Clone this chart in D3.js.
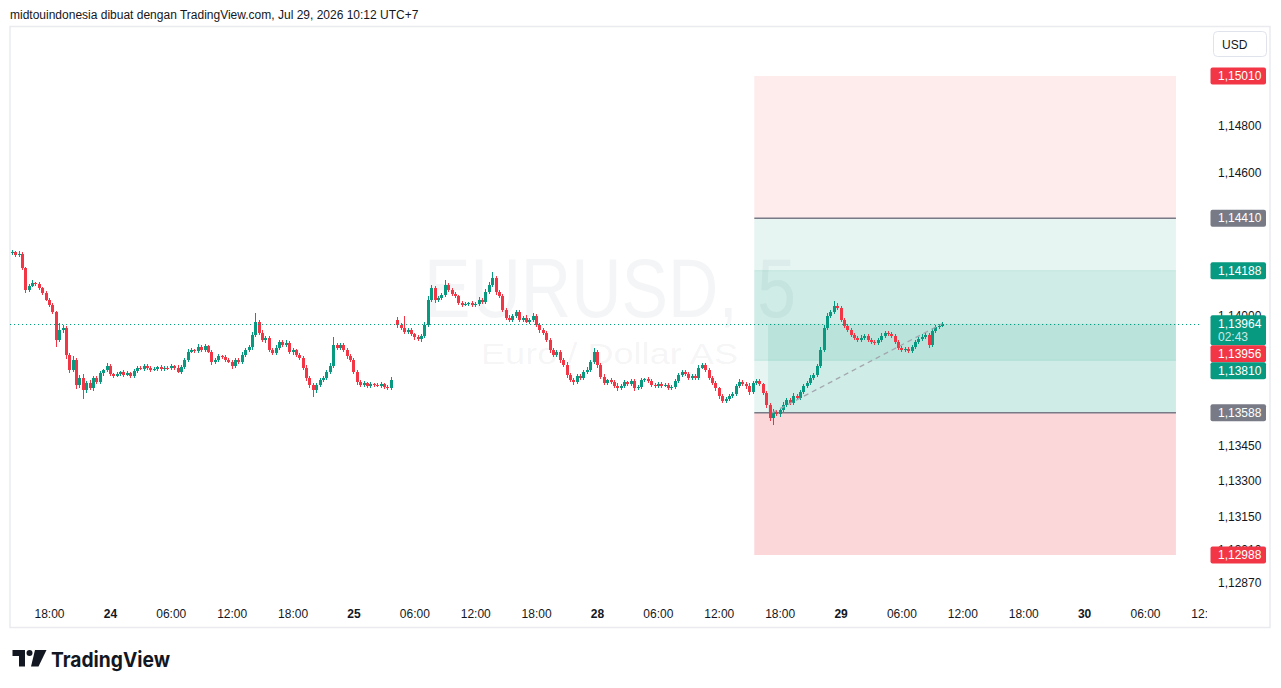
<!DOCTYPE html>
<html>
<head>
<meta charset="utf-8">
<script src="https://cdn.jsdelivr.net/npm/d3@7"></script>
<style>
  body { margin: 0; background: #fff; }
  svg { display: block; font-family: "Liberation Sans", Arial, sans-serif; }
</style>
</head>
<body>
<svg id="chart" width="1281" height="688"></svg>
<script>
// EURUSD, 5, resampled to 20 minute bars
// hours are counted on the chart's own time line, 0 = 23 Jul 18:00
var firstBarHour = -11 / 3;   // 23 Jul 14:20
var barHours = 1 / 3;
var firstOpen = 1.14262;
var reopenPrice = 1.13980;    // first open after the hole in the data

var closes = [
  1.14267,1.14254,1.14259,1.14200,1.14107,1.14124,1.14136,1.14132,1.14115,1.14094,1.14065,1.14043,1.14014,1.13896,1.13938,1.13946,1.13832,1.13769,1.13811,1.13706,
  1.13735,1.13685,1.13714,1.13693,1.13735,1.13718,1.13756,1.13769,1.13786,1.13752,1.13744,1.13752,1.13761,1.13748,1.13756,1.13744,1.13765,1.13778,1.13773,1.13786,
  1.13778,1.13769,1.13773,1.13782,1.13773,1.13778,1.13776,1.13786,1.13778,1.13761,1.13782,1.13811,1.13845,1.13853,1.13850,1.13866,1.13853,1.13870,1.13845,1.13803,
  1.13811,1.13828,1.13824,1.13811,1.13803,1.13786,1.13811,1.13803,1.13832,1.13853,1.13866,1.13917,1.13972,1.13925,1.13896,1.13904,1.13853,1.13841,1.13862,1.13887,
  1.13875,1.13883,1.13845,1.13853,1.13832,1.13820,1.13778,1.13735,1.13706,1.13685,1.13706,1.13727,1.13735,1.13761,1.13786,1.13875,1.13862,1.13875,1.13853,1.13828,
  1.13811,1.13761,1.13718,1.13706,1.13714,1.13702,1.13710,1.13706,1.13702,1.13710,1.13697,1.13693,1.13727,null,1.13959,1.13946,1.13929,1.13938,1.13921,1.13908,
  1.13900,1.13913,1.13959,1.14065,1.14115,1.14065,1.14073,1.14086,1.14128,1.14107,1.14090,1.14081,1.14052,1.14043,1.14046,1.14052,1.14043,1.14048,1.14065,1.14056,
  1.14098,1.14128,1.14157,1.14098,1.14081,1.14022,1.13989,1.13980,1.13997,1.14014,1.13980,1.13989,1.13972,1.13980,1.13997,1.13959,1.13938,1.13925,1.13896,1.13853,
  1.13832,1.13845,1.13811,1.13790,1.13748,1.13727,1.13718,1.13744,1.13735,1.13761,1.13769,1.13803,1.13845,1.13790,1.13740,1.13714,1.13727,1.13718,1.13702,1.13693,
  1.13702,1.13718,1.13710,1.13723,1.13693,1.13697,1.13727,1.13731,1.13723,1.13706,1.13702,1.13710,1.13702,1.13706,1.13693,1.13697,1.13723,1.13748,1.13761,1.13752,
  1.13735,1.13744,1.13735,1.13778,1.13790,1.13769,1.13735,1.13714,1.13693,1.13659,1.13638,1.13647,1.13659,1.13668,1.13702,1.13718,1.13710,1.13702,1.13676,1.13714,
  1.13723,1.13710,1.13672,1.13621,1.13566,1.13592,1.13583,1.13600,1.13621,1.13642,1.13630,1.13659,1.13651,1.13676,1.13702,1.13714,1.13735,1.13748,1.13786,1.13853,
  1.13946,1.13997,1.14014,1.14039,1.14031,1.13980,1.13955,1.13938,1.13917,1.13904,1.13896,1.13904,1.13913,1.13896,1.13887,1.13883,1.13896,1.13913,1.13925,1.13921,
  1.13913,1.13887,1.13862,1.13853,1.13858,1.13849,1.13866,1.13887,1.13900,1.13908,1.13917,1.13875,1.13934,1.13951,1.13955,1.13964
];

// wick lengths beyond the body, in points (0.00001)
var upperWickPts = [
  8,6,12,8,5,9,14,6,8,5,9,6,8,6,30,12,8,9,15,10,
  12,16,9,13,8,10,9,6,12,8,6,9,5,8,10,6,9,8,6,9,
  8,6,9,5,8,6,9,8,6,10,8,9,12,8,6,13,9,8,6,10,
  9,8,6,9,8,10,9,8,12,9,10,14,38,9,13,8,10,9,12,8,
  9,13,8,10,6,9,8,12,9,8,10,8,9,6,12,34,9,8,10,9,
  8,9,6,8,9,6,8,6,9,8,6,8,12,0,14,9,50,8,10,6,
  9,8,12,16,14,9,10,8,20,9,8,10,6,9,8,6,9,8,10,9,
  12,14,25,9,10,8,9,12,8,10,9,8,12,9,13,8,9,8,10,9,
  8,10,9,8,12,9,8,10,9,8,12,9,18,9,8,10,6,9,8,10,
  8,9,6,10,8,9,8,6,9,8,6,9,8,10,6,9,8,10,9,8,
  9,8,6,14,9,8,10,8,9,6,9,8,10,9,8,12,9,8,10,9,
  8,9,6,10,8,12,9,8,13,9,8,12,9,10,8,9,12,9,10,14,
  12,14,10,20,13,9,8,10,9,8,10,12,9,8,10,9,8,12,9,10,
  8,9,10,8,9,6,10,9,8,12,9,8,13,9,10,6
];
var lowerWickPts = [
  8,10,6,9,12,8,6,10,8,9,6,9,8,30,9,12,16,14,10,16,
  14,38,12,9,13,10,8,12,9,10,8,6,9,8,6,9,8,10,6,8,
  9,8,6,10,8,9,6,8,9,6,10,8,9,6,8,9,8,10,6,12,
  9,10,8,9,6,12,8,9,10,8,9,12,8,10,9,12,8,10,9,8,
  10,8,9,12,8,9,10,13,14,30,12,9,10,8,9,8,10,9,8,12,
  9,10,13,9,8,10,9,8,6,9,8,10,9,0,12,9,8,10,9,12,
  8,13,9,8,10,12,9,8,10,9,8,9,8,10,6,9,8,10,9,8,
  9,8,10,12,9,8,10,9,8,10,8,9,6,10,8,9,12,10,9,12,
  10,9,12,10,14,9,12,8,10,9,8,9,10,12,9,10,8,9,10,12,
  9,8,10,9,12,8,9,10,8,9,10,8,9,6,10,8,9,8,10,9,
  8,9,10,8,6,9,8,10,12,14,10,9,8,10,9,8,9,12,14,9,
  8,10,9,12,14,30,10,12,9,10,9,8,10,9,8,9,8,10,9,8,
  9,8,10,8,9,8,10,9,8,10,9,8,10,9,8,10,9,8,9,10,
  9,8,10,9,8,10,9,8,9,10,8,12,9,8,9,6
];

// only the ticks that show (the rest sit under the price marks)
var priceTicks = [1.148, 1.146, 1.140, 1.1345, 1.133, 1.1315, 1.1301, 1.1287];
var timeTickHours = [0, 6, 12, 18, 24, 30, 36, 42, 48, 54, 60, 66, 72, 78, 84, 90, 96, 102, 108, 114];
var timeTickLabels = ['18:00','24','06:00','12:00','18:00','25','06:00','12:00','18:00','28',
                      '06:00','12:00','18:00','29','06:00','12:00','18:00','30','06:00','12:00'];
var dayLabels = ['24', '25', '28', '29', '30'];

// two position tools: short (upper) and long (lower)
var positions = [
  {start: 69.5, end: 111.05, entry: 1.14410, stop: 1.15010, target: 1.13810},
  {start: 69.5, end: 111.05, entry: 1.13588, stop: 1.12988, target: 1.14188}
];
var longHitHour = 70.85;
var entryLineHour = 71.25;

var lastPrice = 1.13964;
var bidPrice = 1.13956;
var countdown = '02:43';
var markPrices = [1.15010, 1.14410, 1.14188, lastPrice, bidPrice, 1.13810, 1.13588, 1.12988];
var markKinds = ['stop', 'entry', 'target', 'last', 'bid', 'target', 'entry', 'stop'];

var upColor = '#089981', downColor = '#f23645';
var markColors = {stop: '#f23645', entry: '#787b86', target: '#089981', last: '#089981', bid: '#f23645'};

// ---------------------------------------------------------------
var svg = d3.select('#chart');
var fmt = function(v){ return d3.format('.5f')(v).replace('.', ','); };

var x = d3.scaleLinear().domain([0, 108]).range([49, 1145]);
var y = d3.scaleLinear().domain([1.12988, 1.15010]).range([555, 76]);

// build bars, open = previous close
var bars = [];
var prev = firstOpen;
closes.forEach(function(c, i){
  if (c === null) { prev = null; return; }
  var o = prev === null ? reopenPrice : prev;
  bars.push({
    h: firstBarHour + i * barHours,
    o: o, c: c,
    hi: Math.max(o, c) + upperWickPts[i] / 1e5,
    lo: Math.min(o, c) - lowerWickPts[i] / 1e5
  });
  prev = c;
});

var defs = svg.append('defs');
defs.append('clipPath').attr('id', 'plotclip')
  .append('rect').attr('x', 10).attr('y', 27).attr('width', 1190).attr('height', 573);
defs.append('clipPath').attr('id', 'timeclip')
  .append('rect').attr('x', 10).attr('y', 600).attr('width', 1197).attr('height', 27);

// header
svg.append('text').attr('x', 10).attr('y', 19).attr('font-size', 12).attr('fill', '#131722')
  .text('midtouindonesia dibuat dengan TradingView.com, Jul 29, 2026 10:12 UTC+7');

// frame
svg.append('rect').attr('x', 10).attr('y', 26.5).attr('width', 1260).attr('height', 601)
  .attr('fill', 'none').attr('stroke', '#e9ebef').attr('stroke-width', 1.5);

var plot = svg.append('g').attr('clip-path', 'url(#plotclip)');

// watermark
plot.append('text').attr('x', 424).attr('y', 317).attr('font-size', 84)
  .attr('textLength', 372).attr('lengthAdjust', 'spacingAndGlyphs')
  .attr('fill', 'rgba(120,123,134,0.08)').text('EURUSD, 5');
plot.append('text').attr('x', 481).attr('y', 364).attr('font-size', 30)
  .attr('textLength', 257).attr('lengthAdjust', 'spacingAndGlyphs')
  .attr('fill', 'rgba(120,123,134,0.08)').text('Euro / Dollar AS');

// position boxes
positions.forEach(function(p, k){
  var x0 = x(p.start), x1 = x(p.end);
  plot.append('rect').attr('x', x0).attr('width', x1 - x0)
    .attr('y', y(Math.max(p.entry, p.stop))).attr('height', Math.abs(y(p.entry) - y(p.stop)))
    .attr('fill', k === 0 ? 'rgba(242,54,69,0.1)' : 'rgba(242,54,69,0.2)');
  plot.append('rect').attr('x', x0).attr('width', x1 - x0)
    .attr('y', y(Math.max(p.entry, p.target))).attr('height', Math.abs(y(p.entry) - y(p.target)))
    .attr('fill', 'rgba(8,153,129,0.1)');
});
var longPos = positions[1];
plot.append('rect').attr('x', x(longHitHour)).attr('width', x(longPos.end) - x(longHitHour))
  .attr('y', y(lastPrice)).attr('height', y(longPos.entry) - y(lastPrice))
  .attr('fill', 'rgba(8,153,129,0.1)');
positions.forEach(function(p){
  plot.append('line').attr('x1', x(p.start)).attr('x2', x(p.end))
    .attr('y1', y(p.target)).attr('y2', y(p.target))
    .attr('stroke', 'rgba(8,153,129,0.12)');
  plot.append('line').attr('x1', x(p.start)).attr('x2', x(p.end))
    .attr('y1', y(p.entry)).attr('y2', y(p.entry))
    .attr('stroke', '#787b86').attr('stroke-width', 1.5);
});

// candles
var cg = plot.append('g').attr('shape-rendering', 'crispEdges');
var col = function(d){ return d.c >= d.o ? upColor : downColor; };
cg.selectAll('rect.wick').data(bars).join('rect').attr('class', 'wick')
  .attr('x', function(d){ return Math.round(x(d.h)); })
  .attr('width', 1)
  .attr('y', function(d){ return y(d.hi); })
  .attr('height', function(d){ return Math.max(1, y(d.lo) - y(d.hi)); })
  .attr('fill', col);
cg.selectAll('rect.body').data(bars).join('rect').attr('class', 'body')
  .attr('x', function(d){ return Math.round(x(d.h)) - 1; })
  .attr('width', 3)
  .attr('y', function(d){ return y(Math.max(d.o, d.c)); })
  .attr('height', function(d){ return Math.max(1, Math.abs(y(d.o) - y(d.c))); })
  .attr('fill', col);

// line from long entry to the last close
var lastBar = bars[bars.length - 1];
plot.append('line')
  .attr('x1', x(entryLineHour)).attr('y1', y(longPos.entry))
  .attr('x2', x(lastBar.h)).attr('y2', y(lastBar.c))
  .attr('stroke', '#a3a6af').attr('stroke-width', 1.3).attr('stroke-dasharray', '5,4');

// current price line
var py = Math.round(y(lastPrice)) + 0.5;
svg.append('line').attr('x1', 10).attr('x2', 1201).attr('y1', py).attr('y2', py)
  .attr('stroke', upColor).attr('stroke-width', 1.2).attr('stroke-dasharray', '1.2,2.8');

// price axis
var yAxis = svg.append('g').attr('transform', 'translate(1218,0)')
  .call(d3.axisRight(y).tickValues(priceTicks).tickFormat(fmt).tickSize(0).tickPadding(0));
yAxis.select('.domain').remove();
yAxis.attr('font-family', null).attr('font-size', 12);
yAxis.selectAll('text').attr('fill', '#131722');

// time axis (clipped at the price scale like the reference)
var xAxis = svg.append('g').attr('clip-path', 'url(#timeclip)')
  .append('g').attr('transform', 'translate(0,606)')
  .call(d3.axisBottom(x).tickValues(timeTickHours)
    .tickFormat(function(h){ return timeTickLabels[timeTickHours.indexOf(h)]; })
    .tickSize(0).tickPadding(3));
xAxis.select('.domain').remove();
xAxis.attr('font-family', null).attr('font-size', 12);
xAxis.selectAll('text').attr('fill', '#131722')
  .attr('font-weight', function(h){ return dayLabels.indexOf(timeTickLabels[timeTickHours.indexOf(h)]) >= 0 ? 'bold' : null; });

// price marks on the axis, pushed down when they overlap
var marks = markPrices.map(function(p, i){ return {price: p, kind: markKinds[i]}; });
marks.sort(function(a, b){ return b.price - a.price; });
var bottom = -Infinity;
marks.forEach(function(m){
  m.h = m.kind === 'last' ? 30 : 17;
  m.top = Math.max(y(m.price) - 8.5, bottom);
  bottom = m.top + m.h;
});
var mg = svg.append('g').selectAll('g').data(marks).join('g');
mg.append('rect').attr('x', 1210.5).attr('width', 55.5)
  .attr('y', function(m){ return m.top; }).attr('height', function(m){ return m.h; })
  .attr('rx', 2).attr('fill', function(m){ return markColors[m.kind]; });
mg.append('text').attr('x', 1218).attr('y', function(m){ return m.top + 12.8; })
  .attr('font-size', 12).attr('fill', '#fff').text(function(m){ return fmt(m.price); });
mg.filter(function(m){ return m.kind === 'last'; }).append('text')
  .attr('x', 1218).attr('y', function(m){ return m.top + 26; })
  .attr('font-size', 12).attr('fill', 'rgba(255,255,255,0.8)').text(countdown);

// currency button
svg.append('rect').attr('x', 1213.5).attr('y', 31.5).attr('width', 53).attr('height', 25).attr('rx', 4)
  .attr('fill', '#fff').attr('stroke', '#e0e3eb');
svg.append('text').attr('x', 1222).attr('y', 48.5).attr('font-size', 12).attr('fill', '#131722').text('USD');

// TradingView logo
var logo = svg.append('g').attr('fill', '#131722');
logo.append('path').attr('d', 'M12.5,650 H25 V666.5 H19 V656 H12.5 Z');
logo.append('circle').attr('cx', 29.5).attr('cy', 653).attr('r', 3);
logo.append('path').attr('d', 'M35,650 H46.5 L38.5,666.5 H31 Z');
logo.append('text').attr('x', 51).attr('y', 666.5).attr('font-family', 'Inter, "Liberation Sans", sans-serif')
  .attr('font-weight', 700).attr('font-size', 20.5).attr('textLength', 119).attr('lengthAdjust', 'spacingAndGlyphs')
  .text('TradingView');
</script>
</body>
</html>
